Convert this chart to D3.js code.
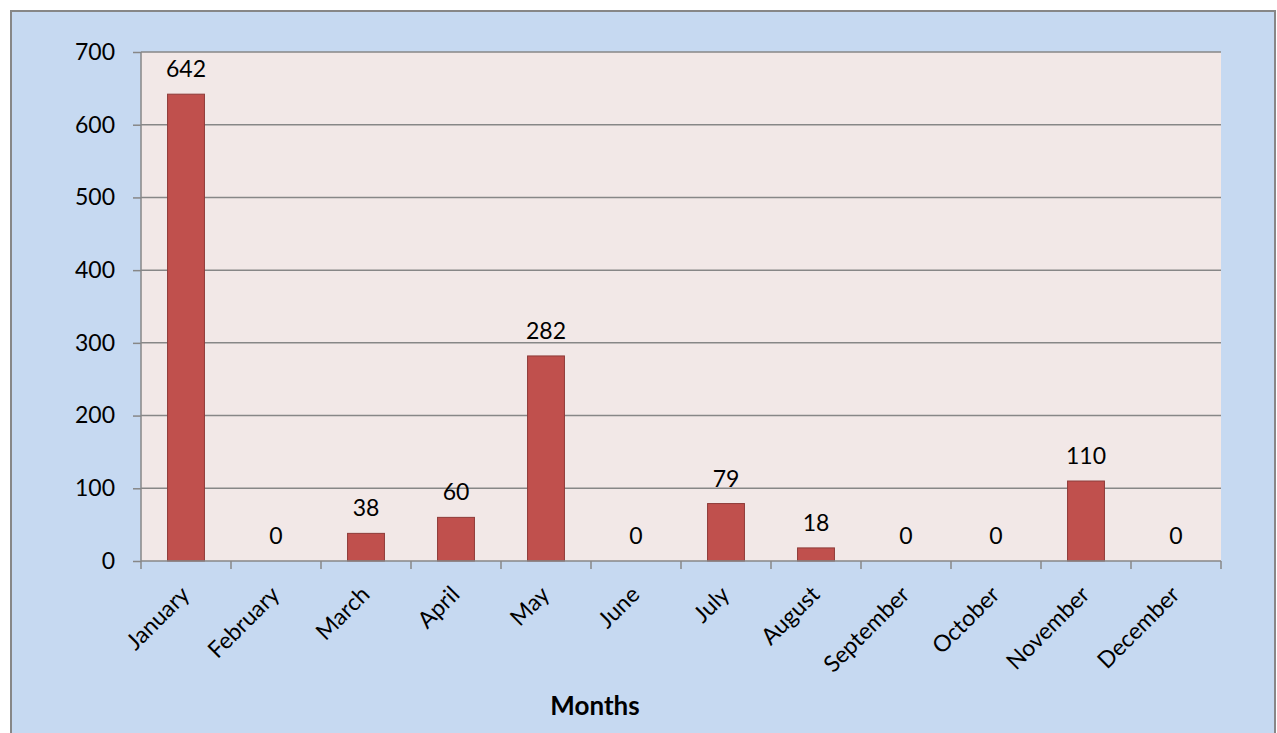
<!DOCTYPE html>
<html>
<head>
<meta charset="utf-8">
<script src="https://cdn.jsdelivr.net/npm/d3@7/dist/d3.min.js"></script>
<style>
  html, body { margin: 0; padding: 0; background: #fff; }
  text { font-family: Lato, "Open Sans", sans-serif; fill: #000; }
</style>
</head>
<body>
<svg id="chart" width="1277" height="733"></svg>
<script>
// values per month
const months = ['January', 'February', 'March', 'April', 'May', 'June',
  'July', 'August', 'September', 'October', 'November', 'December'];
const counts = [642, 0, 38, 60, 282, 0, 79, 18, 0, 0, 110, 0];
const yTicks = [0, 100, 200, 300, 400, 500, 600, 700];

const svg = d3.select('#chart');
const margin = { top: 52, right: 56, bottom: 172, left: 141 };
const width = 1277 - margin.left - margin.right;
const height = 733 - margin.top - margin.bottom;

// outer chart area
svg.append('rect')
  .attr('x', 11).attr('y', 11)
  .attr('width', 1264).attr('height', 730)
  .attr('fill', '#c6d9f1')
  .attr('stroke', '#878787')
  .attr('stroke-width', 2);

const g = svg.append('g').attr('transform', `translate(${margin.left},${margin.top})`);

const x = d3.scaleBand().domain(months).range([0, width]).paddingInner(0.59).paddingOuter(0.295);
const xc = d3.scaleBand().domain(months).range([0, width]);
const y = d3.scaleLinear().domain([0, 700]).range([height, 0]);

// plot area
g.append('rect')
  .attr('width', width).attr('height', height)
  .attr('fill', '#f2e8e7');

// gridlines
g.append('g')
  .selectAll('line')
  .data(yTicks.filter(d => d > 0))
  .enter().append('line')
  .attr('x1', 0).attr('x2', width)
  .attr('y1', d => y(d)).attr('y2', d => y(d))
  .attr('stroke', '#878787')
  .attr('stroke-width', 1.5);

// bars
g.selectAll('.bar')
  .data(counts)
  .enter().append('rect')
  .attr('class', 'bar')
  .attr('x', (d, i) => x(months[i]))
  .attr('width', x.bandwidth())
  .attr('y', d => y(d))
  .attr('height', d => height - y(d))
  .attr('fill', '#c0504d')
  .attr('stroke', '#8e3b39')
  .attr('stroke-width', 1);

// value labels
g.selectAll('.val')
  .data(counts)
  .enter().append('text')
  .attr('class', 'val')
  .attr('x', (d, i) => xc(months[i]) + xc.bandwidth() / 2)
  .attr('y', d => y(d) - 17)
  .attr('text-anchor', 'middle')
  .style('font-size', '23px')
  .text(d => d);

// y axis
const yAxis = g.append('g')
  .call(d3.axisLeft(y).tickValues(yTicks).tickSize(8).tickPadding(18));
yAxis.select('.domain').attr('stroke', '#878787').attr('stroke-width', 1.5).attr('d', `M0,${height}V0`);
yAxis.selectAll('.tick line').attr('stroke', '#878787').attr('stroke-width', 1.5);
yAxis.selectAll('.tick text').style('font-size', '23px').style('font-family', 'Lato, sans-serif');

// x axis
const xAxis = g.append('g')
  .attr('transform', `translate(0,${height})`)
  .call(d3.axisBottom(xc).tickSize(0).tickFormat(''));
xAxis.select('.domain').attr('stroke', '#878787').attr('stroke-width', 1.5).attr('d', `M0,0H${width}`);
xAxis.selectAll('.tick').remove();

xAxis.selectAll('.xtick')
  .data(d3.range(months.length + 1))
  .enter().append('line')
  .attr('x1', i => i * xc.step()).attr('x2', i => i * xc.step())
  .attr('y1', 0).attr('y2', 8)
  .attr('stroke', '#878787').attr('stroke-width', 1.5);

xAxis.selectAll('.xlabel')
  .data(months)
  .enter().append('text')
  .attr('transform', d => `translate(${xc(d) + xc.bandwidth() / 2 + 5},${35}) rotate(-45)`)
  .attr('text-anchor', 'end')
  .style('font-size', '23px')
  .text(d => d);

// axis title
svg.append('text')
  .attr('x', 595).attr('y', 715)
  .attr('text-anchor', 'middle')
  .style('font-size', '26px')
  .style('font-weight', 'bold')
  .text('Months');
</script>
</body>
</html>
